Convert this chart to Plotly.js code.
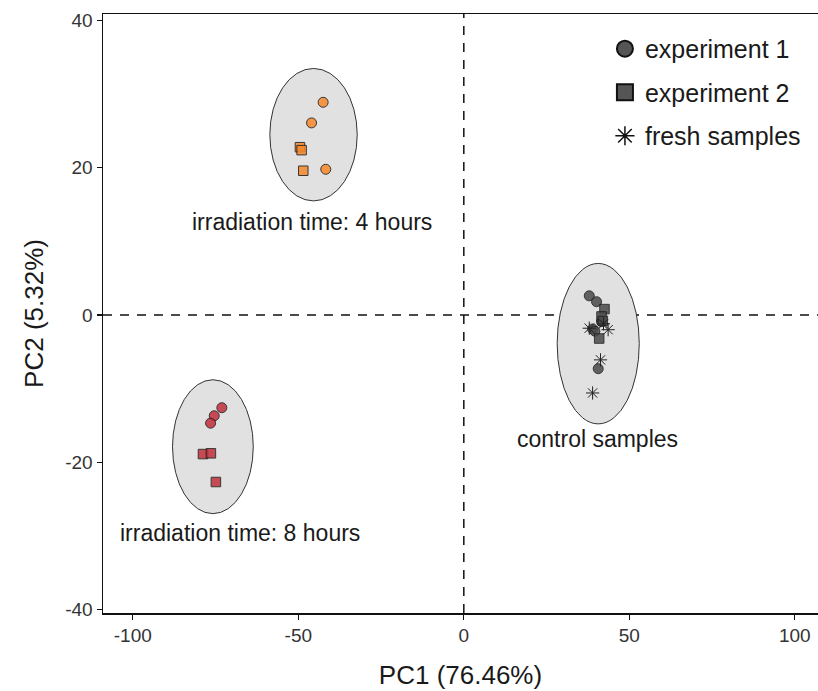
<!DOCTYPE html>
<html>
<head>
<meta charset="utf-8">
<script src="https://cdn.plot.ly/plotly-3.0.1.min.js"></script>
<style>
  html, body { margin: 0; padding: 0; background: #fff; }
  #chart { width: 818px; height: 691px; }
</style>
</head>
<body>
<div id="chart"></div>
<script>
// PCA scores: PC1 / PC2 for each sample, split by experiment
const exp1X = [-42.5, -46.0, -41.7, -73.1, -75.4, -76.5, 37.9, 40.1, 41.6, 38.9, 39.6, 40.6];
const exp1Y = [28.9, 26.1, 19.8, -12.6, -13.7, -14.7, 2.6, 1.8, -0.9, -1.9, -2.2, -7.3];
const exp1Group = ["4h", "4h", "4h", "8h", "8h", "8h", "ctrl", "ctrl", "ctrl", "ctrl", "ctrl", "ctrl"];

const exp2X = [-49.5, -49.0, -48.5, -78.8, -76.4, -74.9, 42.5, 41.6, 42.0, 40.9];
const exp2Y = [22.8, 22.4, 19.6, -18.9, -18.8, -22.7, 0.8, -0.2, -0.8, -3.2];
const exp2Group = ["4h", "4h", "4h", "8h", "8h", "8h", "ctrl", "ctrl", "ctrl", "ctrl"];

const freshX = [37.9, 43.6, 42.2, 41.3, 38.9];
const freshY = [-1.8, -2.0, -1.2, -6.1, -10.6];

// Group colours
const groupColor = { "4h": "#F7882A", "8h": "#C2303B", "ctrl": "#4A4A4A" };

// Confidence ellipses per group: centre and semi-axes in PC units
const ellipseCx = [-45.4, -75.8, 40.6];
const ellipseCy = [24.5, -17.9, -3.9];
const ellipseRx = [13.2, 12.2, 12.4];
const ellipseRy = [9.0, 9.1, 10.9];

// Group labels
const labelText = ["irradiation time: 4 hours", "irradiation time: 8 hours", "control samples"];
const labelX = [-45.9, -67.7, 40.5];
const labelY = [12.6, -29.6, -16.8];

// Axis ticks
const xTicks = [-100, -50, 0, 50, 100];
const yTicks = [-40, -20, 0, 20, 40];

const FONT = "Liberation Sans, Arial, sans-serif";

const traces = [
  {
    x: exp1X, y: exp1Y, type: "scatter", mode: "markers", showlegend: false,
    marker: { symbol: "circle", size: 10, opacity: 0.85,
      color: exp1Group.map(g => groupColor[g]),
      line: { color: "#1a1a1a", width: 1 } },
    hoverinfo: "x+y"
  },
  {
    x: exp2X, y: exp2Y, type: "scatter", mode: "markers", showlegend: false,
    marker: { symbol: "square", size: 9.5, opacity: 0.85,
      color: exp2Group.map(g => groupColor[g]),
      line: { color: "#1a1a1a", width: 1 } },
    hoverinfo: "x+y"
  },
  {
    x: freshX, y: freshY, type: "scatter", mode: "markers", showlegend: false,
    marker: { symbol: "asterisk-open", size: 11, color: "#222",
      line: { color: "#222", width: 1 } },
    hoverinfo: "x+y"
  },
  // Legend entries
  {
    x: [null], y: [null], type: "scatter", mode: "markers", name: "experiment 1",
    legendgroup: "a",
    marker: { symbol: "circle", size: 20, color: "#555", line: { color: "#111", width: 2 } }
  },
  {
    x: [null], y: [null], type: "scatter", mode: "markers", name: "experiment 2",
    legendgroup: "b",
    marker: { symbol: "square", size: 20, color: "#555", line: { color: "#111", width: 2 } }
  },
  {
    x: [null], y: [null], type: "scatter", mode: "markers", name: "fresh samples",
    legendgroup: "c",
    marker: { symbol: "asterisk-open", size: 20, color: "#111", line: { color: "#111", width: 1.5 } }
  }
];

const shapes = [];
for (let i = 0; i < ellipseCx.length; i++) {
  shapes.push({
    type: "circle", xref: "x", yref: "y", layer: "below",
    x0: ellipseCx[i] - ellipseRx[i], x1: ellipseCx[i] + ellipseRx[i],
    y0: ellipseCy[i] - ellipseRy[i], y1: ellipseCy[i] + ellipseRy[i],
    fillcolor: "#E1E1E1", line: { color: "#333", width: 1 }
  });
}
// Dashed reference lines through the origin
shapes.push({
  type: "line", xref: "x", yref: "paper", x0: 0, x1: 0, y0: 0, y1: 1, layer: "below",
  line: { color: "#111", width: 1.5, dash: "9px,8px" }
});
shapes.push({
  type: "line", xref: "paper", yref: "y", x0: 0, x1: 1, y0: 0, y1: 0, layer: "below",
  line: { color: "#111", width: 1.5, dash: "9px,8px" }
});

const annotations = labelText.map((t, i) => ({
  x: labelX[i], y: labelY[i], xref: "x", yref: "y", text: t, showarrow: false,
  font: { family: FONT, size: 23, color: "#1a1a1a" }
}));

const layout = {
  width: 818, height: 691,
  margin: { l: 103, r: 0, t: 14, b: 78 },
  paper_bgcolor: "#fff", plot_bgcolor: "#fff",
  font: { family: FONT, color: "#222" },
  showlegend: true,
  legend: {
    x: 0.702, xanchor: "left", y: 0.98, yanchor: "top",
    font: { family: FONT, size: 25, color: "#1a1a1a" },
    bgcolor: "rgba(0,0,0,0)", tracegroupgap: 8, itemsizing: "trace"
  },
  xaxis: {
    range: [-109, 107], tickvals: xTicks, ticktext: xTicks.map(String),
    showgrid: false, zeroline: false,
    showline: true, linecolor: "#111", linewidth: 1.5, mirror: true,
    ticks: "outside", ticklen: 5, tickcolor: "#111", tickwidth: 1.2,
    tickfont: { family: FONT, size: 19, color: "#333" },
    title: { text: "PC1 (76.46%)", font: { family: FONT, size: 26, color: "#1a1a1a" }, standoff: 20 }
  },
  yaxis: {
    range: [-40.5, 40.9], tickvals: yTicks, ticktext: yTicks.map(String),
    showgrid: false, zeroline: false,
    showline: true, linecolor: "#111", linewidth: 1.5, mirror: false,
    ticks: "outside", ticklen: 5, tickcolor: "#111", tickwidth: 1.2,
    tickfont: { family: FONT, size: 19, color: "#333" },
    title: { text: "PC2 (5.32%)", font: { family: FONT, size: 26, color: "#1a1a1a" }, standoff: 14 }
  },
  shapes: shapes,
  annotations: annotations
};

Plotly.newPlot("chart", traces, layout, { displayModeBar: false, staticPlot: true });
</script>
</body>
</html>
